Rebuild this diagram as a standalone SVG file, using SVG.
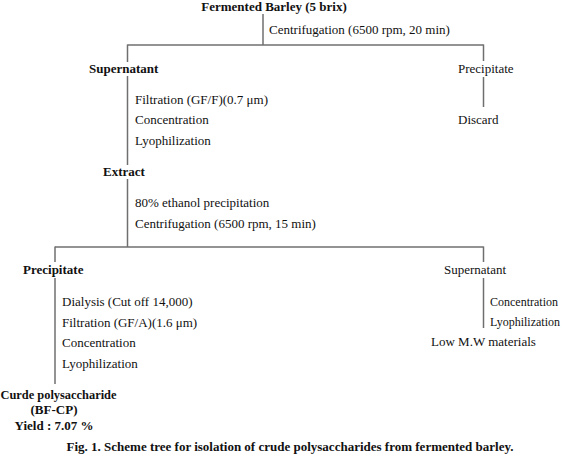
<svg xmlns="http://www.w3.org/2000/svg" width="563" height="458" viewBox="0 0 563 458">
<style>
text{font-family:"Liberation Serif","Times New Roman",serif;font-size:13px;fill:#111}
.b{font-weight:bold}
.m{text-anchor:middle}
.s{font-size:12px}
.c line{stroke:#6f6f6f;stroke-width:1.5;fill:none}
</style>
<rect width="563" height="458" fill="#fff"/>
<g id="connectors" class="c">
<line x1="263" y1="14" x2="263" y2="45"/>
<line x1="127.5" y1="45" x2="483.5" y2="45"/>
<line x1="127.5" y1="44.5" x2="127.5" y2="62"/>
<line x1="127.5" y1="76" x2="127.5" y2="165"/>
<line x1="127.5" y1="179" x2="127.5" y2="247"/>
<line x1="483.5" y1="44.5" x2="483.5" y2="61"/>
<line x1="483.5" y1="77" x2="483.5" y2="107"/>
<line x1="55" y1="247" x2="483.5" y2="247"/>
<line x1="55" y1="246.5" x2="55" y2="262"/>
<line x1="55" y1="278" x2="55" y2="384"/>
<line x1="483.5" y1="246.5" x2="483.5" y2="262"/>
<line x1="483.5" y1="278" x2="483.5" y2="328"/>
</g>
<g id="fermented"><text class="b m" x="274" y="11">Fermented Barley (5 brix)</text></g>
<g id="step1"><text x="269" y="34">Centrifugation (6500 rpm, 20 min)</text></g>
<g id="supernatant1"><text class="b" x="89" y="73">Supernatant</text></g>
<g id="precipitate1"><text x="458" y="73">Precipitate</text></g>
<g id="step2">
<text x="135" y="104">Filtration (GF/F)(0.7 μm)</text>
<text x="135" y="124">Concentration</text>
<text x="135" y="145">Lyophilization</text>
</g>
<g id="discard"><text x="458" y="124">Discard</text></g>
<g id="extract"><text class="b" x="103" y="176">Extract</text></g>
<g id="step3">
<text x="135" y="207">80% ethanol precipitation</text>
<text x="135" y="228">Centrifugation (6500 rpm, 15 min)</text>
</g>
<g id="precipitate2"><text class="b" x="23" y="274">Precipitate</text></g>
<g id="supernatant2"><text x="444" y="274">Supernatant</text></g>
<g id="step4">
<text x="62" y="306">Dialysis (Cut off 14,000)</text>
<text x="62" y="327">Filtration (GF/A)(1.6 μm)</text>
<text x="62" y="347">Concentration</text>
<text x="62" y="368">Lyophilization</text>
</g>
<g id="step5">
<text class="s" x="490" y="306">Concentration</text>
<text class="s" x="490" y="326">Lyophilization</text>
</g>
<g id="lowmw"><text x="431" y="346">Low M.W materials</text></g>
<g id="crude">
<text class="b" x="0.5" y="399" textLength="116" lengthAdjust="spacingAndGlyphs">Curde polysaccharide</text>
<text class="b m" x="54" y="414">(BF-CP)</text>
<text class="b m" x="54" y="430">Yield : 7.07 %</text>
</g>
<g id="caption"><text class="b m" x="290" y="451">Fig. 1. Scheme tree for isolation of crude polysaccharides from fermented barley.</text></g>
</svg>
